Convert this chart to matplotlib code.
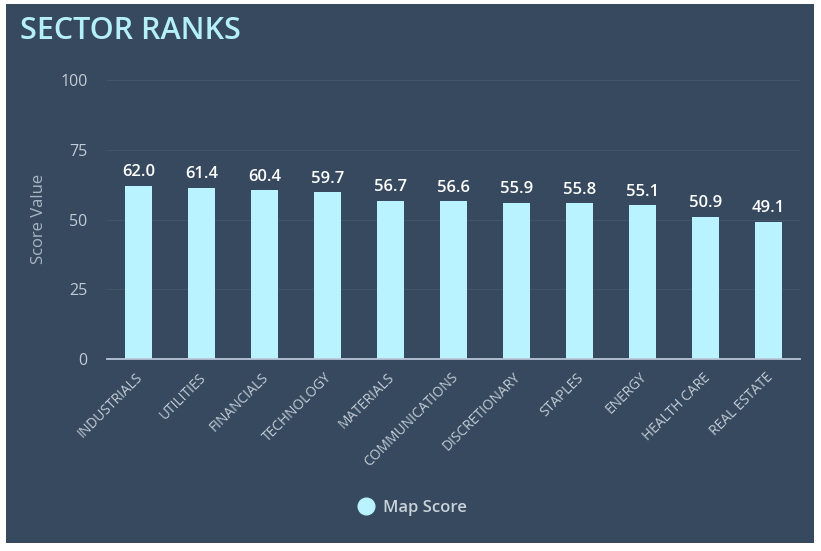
import matplotlib
matplotlib.use('Agg')
import matplotlib.pyplot as plt
from matplotlib.patches import Rectangle
from matplotlib.transforms import ScaledTranslation

sectors = ['INDUSTRIALS', 'UTILITIES', 'FINANCIALS', 'TECHNOLOGY', 'MATERIALS',
           'COMMUNICATIONS', 'DISCRETIONARY', 'STAPLES', 'ENERGY', 'HEALTH CARE',
           'REAL ESTATE']
scores = [62.0, 61.4, 60.4, 59.7, 56.7, 56.6, 55.9, 55.8, 55.1, 50.9, 49.1]
y_ticks = [0, 25, 50, 75, 100]

W, H = 821, 551
PANEL = '#36495e'
BAR = '#b8f3ff'
TICK = '#c3ccd6'
GRID = '#415469'

plt.rcParams['font.family'] = ['Open Sans', 'DejaVu Sans']

fig = plt.figure(figsize=(W / 100, H / 100), dpi=100, facecolor='white')
# panel sits behind the axes
fig.add_artist(Rectangle((6 / W, 1 - 543 / H), 808 / W, 539 / H,
                         transform=fig.transFigure, color=PANEL, lw=0, zorder=-1))

ax = fig.add_axes([107 / W, 1 - 359 / H, 693 / W, 279 / H])
ax.set_facecolor('none')
ax.set_xlim(-0.5, len(sectors) - 0.5)
ax.set_ylim(0, 100)

ax.bar(range(len(sectors)), scores, width=0.43, color=BAR, zorder=2)
for i, v in enumerate(scores):
    ax.annotate(f'{v:.1f}', (i, v), xytext=(0, 4), textcoords='offset points',
                ha='center', va='bottom', color='white', fontsize=12,
                fontweight='semibold')

ax.set_yticks(y_ticks)
ax.set_xticks(range(len(sectors)))
ax.set_xticklabels(sectors, rotation=45, ha='right', rotation_mode='anchor',
                   fontsize=9.9, color=TICK)
ax.tick_params(axis='y', length=0, pad=14, labelsize=11.5, labelcolor=TICK)
ax.tick_params(axis='x', length=0, pad=8)
# rotated labels end closer to the bar centre than the default anchor,
# has to come after tick_params or the transform gets reset
shift = ScaledTranslation(-3 / 100, 0, fig.dpi_scale_trans)
for lbl in ax.get_xticklabels():
    lbl.set_transform(lbl.get_transform() + shift)
ax.grid(axis='y', color=GRID, lw=0.8, zorder=0)
ax.set_axisbelow(True)
for side in ['top', 'right', 'left']:
    ax.spines[side].set_visible(False)
ax.spines['bottom'].set_color('#b9c6d8')
ax.spines['bottom'].set_linewidth(1.3)
ax.spines['bottom'].set_zorder(3)

fig.text(39 / W, 1 - 219 / H, 'Score Value', rotation=90, ha='center', va='center',
         color='#aab5c1', fontsize=12)
fig.text(20 / W, 1 - 31 / H, 'SECTOR RANKS', ha='left', va='center',
         color='#b5f0fa', fontsize=22, fontweight='semibold')

fig.add_artist(plt.Line2D([365.5 / W], [1 - 506 / H], marker='o', ms=12, color=BAR,
                          lw=0, transform=fig.transFigure))
fig.text(383 / W, 1 - 508 / H, 'Map Score', ha='left', va='center',
         color='#c9d1da', fontsize=12, fontweight='semibold')

fig.savefig('out.png', dpi=100, facecolor='white')
